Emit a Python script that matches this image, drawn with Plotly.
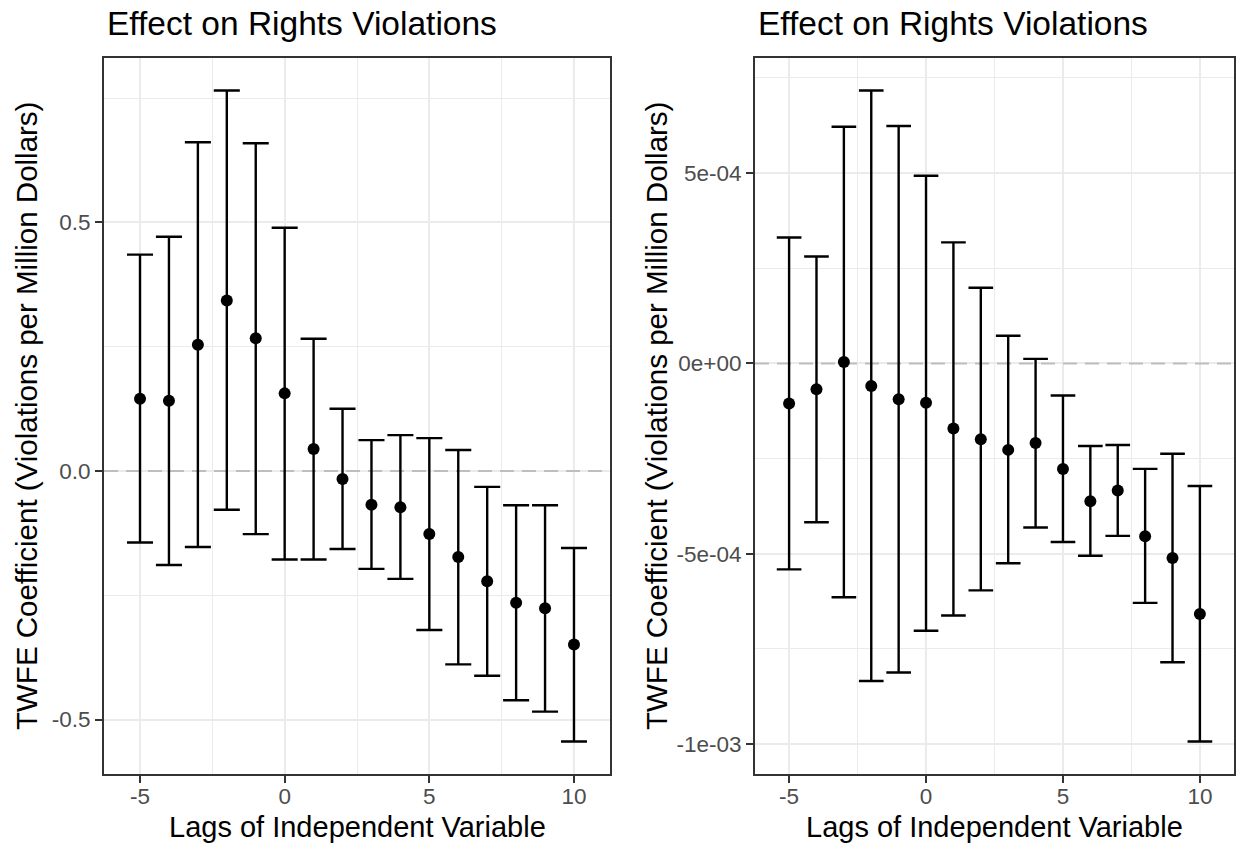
import plotly.graph_objects as go

# ---------------- data ----------------
lags = [-5, -4, -3, -2, -1, 0, 1, 2, 3, 4, 5, 6, 7, 8, 9, 10]

# left panel
est_left = [0.145, 0.141, 0.254, 0.343, 0.267, 0.156, 0.044, -0.016,
            -0.068, -0.073, -0.127, -0.173, -0.222, -0.265, -0.276, -0.349]
low_left = [-0.144, -0.189, -0.153, -0.078, -0.127, -0.178, -0.178, -0.157,
            -0.197, -0.217, -0.320, -0.389, -0.412, -0.461, -0.484, -0.544]
high_left = [0.435, 0.471, 0.661, 0.765, 0.659, 0.489, 0.266, 0.125,
             0.062, 0.072, 0.066, 0.042, -0.032, -0.069, -0.069, -0.155]

# right panel
est_right = [-1.05e-4, -0.68e-4, 0.04e-4, -0.59e-4, -0.94e-4, -1.03e-4, -1.71e-4, -1.99e-4,
             -2.27e-4, -2.09e-4, -2.77e-4, -3.62e-4, -3.34e-4, -4.54e-4, -5.11e-4, -6.58e-4]
low_right = [-5.41e-4, -4.17e-4, -6.14e-4, -8.34e-4, -8.12e-4, -7.02e-4, -6.62e-4, -5.96e-4,
             -5.25e-4, -4.31e-4, -4.69e-4, -5.05e-4, -4.53e-4, -6.29e-4, -7.85e-4, -9.93e-4]
high_right = [3.31e-4, 2.81e-4, 6.22e-4, 7.17e-4, 6.24e-4, 4.93e-4, 3.18e-4, 1.99e-4,
              0.73e-4, 0.12e-4, -0.84e-4, -2.17e-4, -2.14e-4, -2.77e-4, -2.37e-4, -3.22e-4]

x_ticks = [-5, 0, 5, 10]
x_minor = [-2.5, 2.5, 7.5]
y_ticks_left = [-0.5, 0.0, 0.5]
y_ticklabels_left = ["-0.5", "0.0", "0.5"]
y_minor_left = [-0.75, -0.25, 0.25, 0.75]
y_ticks_right = [-1e-3, -5e-4, 0.0, 5e-4]
y_ticklabels_right = ["-1e-03", "-5e-04", "0e+00", "5e-04"]
y_minor_right = [-7.5e-4, -2.5e-4, 2.5e-4, 7.5e-4]
ref_value = 0.0

title_text = "Effect on Rights Violations"
x_title = "Lags of Independent Variable"
y_title = "TWFE Coefficient (Violations per Million Dollars)"

# ---------------- styling ----------------
W, H = 1238, 846
FONT = "Liberation Sans, Arial, Helvetica, sans-serif"
GRID = "#EBEBEB"
AXC = "#333333"
TICKC = "#4D4D4D"
CAP_HALF_UNITS = 0.45


def expand(lo, hi, f=0.05):
    span = hi - lo
    return [lo - f * span, hi + f * span]


x_range = expand(min(lags) - CAP_HALF_UNITS, max(lags) + CAP_HALF_UNITS)
yl_range = expand(min(low_left), max(high_left))
yr_range = expand(min(low_right), max(high_right))

left_px = (104, 610)
right_px = (755, 1234)
top_px, bottom_px = 58, 774

fig = go.Figure()


def add_panel(est, low, high, xa, ya, cap_px):
    # dashed reference line at zero, drawn under the error bars
    fig.add_trace(go.Scatter(
        x=x_range, y=[ref_value, ref_value], mode="lines",
        xaxis=xa, yaxis=ya,
        line=dict(color="#BEBEBE", width=2, dash="14px,8px"),
        showlegend=False, hoverinfo="skip",
    ))
    fig.add_trace(go.Scatter(
        x=lags, y=est, mode="markers",
        xaxis=xa, yaxis=ya,
        marker=dict(color="black", size=12),
        error_y=dict(type="data", symmetric=False,
                     array=[h - e for h, e in zip(high, est)],
                     arrayminus=[e - l for e, l in zip(est, low)],
                     color="black", thickness=2.4, width=cap_px),
        showlegend=False, hoverinfo="skip",
    ))


left_unit = (left_px[1] - left_px[0]) / (x_range[1] - x_range[0])
right_unit = (right_px[1] - right_px[0]) / (x_range[1] - x_range[0])
add_panel(est_left, low_left, high_left, "x", "y", CAP_HALF_UNITS * left_unit)
add_panel(est_right, low_right, high_right, "x2", "y2", CAP_HALF_UNITS * right_unit)

tickfont = dict(family=FONT, size=22.5, color=TICKC)
common_axis = dict(
    showgrid=True, gridcolor=GRID, gridwidth=1.8,
    zeroline=False, showline=True, mirror=True,
    linecolor=AXC, linewidth=2,
    ticks="outside", ticklen=7, tickwidth=2, tickcolor=AXC,
    tickfont=tickfont,
)
minor_style = dict(showgrid=True, gridcolor=GRID, gridwidth=1)

ydom = [1 - bottom_px / H, 1 - top_px / H]

fig.update_layout(
    width=W, height=H,
    margin=dict(l=0, r=0, t=0, b=0),
    paper_bgcolor="white", plot_bgcolor="white",
    xaxis=dict(domain=[left_px[0] / W, left_px[1] / W], anchor="y", range=x_range,
               tickvals=x_ticks, ticktext=[str(v) for v in x_ticks],
               minor=dict(tickvals=x_minor, **minor_style), ticklabelstandoff=-6,
               **common_axis),
    yaxis=dict(domain=ydom, anchor="x", range=yl_range,
               tickvals=y_ticks_left, ticktext=y_ticklabels_left,
               minor=dict(tickvals=y_minor_left, **minor_style),
               **common_axis),
    xaxis2=dict(domain=[right_px[0] / W, right_px[1] / W], anchor="y2", range=x_range,
                tickvals=x_ticks, ticktext=[str(v) for v in x_ticks],
                minor=dict(tickvals=x_minor, **minor_style), ticklabelstandoff=-6,
                **common_axis),
    yaxis2=dict(domain=ydom, anchor="x2", range=yr_range,
                tickvals=y_ticks_right, ticktext=y_ticklabels_right,
                minor=dict(tickvals=y_minor_right, **minor_style),
                **common_axis),
)

ann = []
for (x0, x1), ytx in ((left_px, 26), (right_px, 656)):
    ann.append(dict(text=title_text, xref="paper", yref="paper",
                    x=(x0 + 1) / W, y=1 - 23.5 / H, xanchor="left", yanchor="middle",
                    showarrow=False, font=dict(family=FONT, size=33.5, color="black")))
    ann.append(dict(text=x_title, xref="paper", yref="paper",
                    x=(x0 + x1) / 2 / W, y=1 - 827 / H, xanchor="center", yanchor="middle",
                    showarrow=False, font=dict(family=FONT, size=29, color="black")))
    ann.append(dict(text=y_title, xref="paper", yref="paper", textangle=-90,
                    x=ytx / W, y=1 - (top_px + bottom_px) / 2 / H, xanchor="center", yanchor="middle",
                    showarrow=False, font=dict(family=FONT, size=29.5, color="black")))
fig.update_layout(annotations=ann)

fig.write_html("out.html", config={"displayModeBar": False},
               post_script="document.body.style.margin='0px';")
